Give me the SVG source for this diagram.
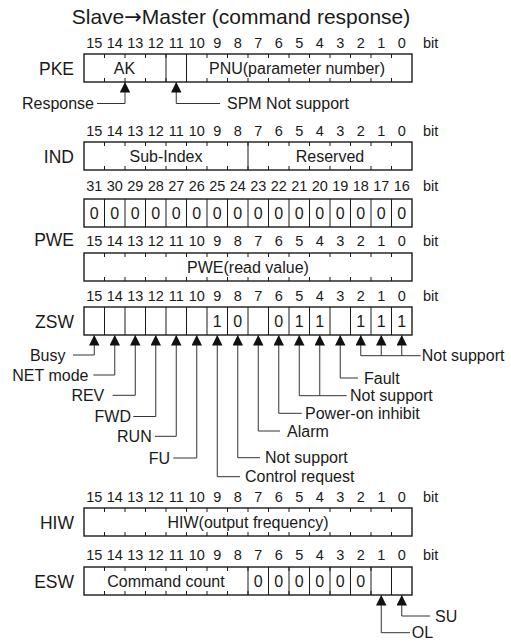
<svg xmlns="http://www.w3.org/2000/svg" xmlns:xlink="http://www.w3.org/1999/xlink" width="511" height="642" viewBox="0 0 511 642">
<style>
text{font-family:"Liberation Sans",Arial,sans-serif;fill:#1a1a1a}
.title{font-size:21px;text-anchor:middle}
.arr{font-family:"DejaVu Sans",sans-serif}
.reg{font-size:17.5px;text-anchor:end}
.num{font-size:14.5px;text-anchor:middle}
.bit{font-size:14.5px}
.in{font-size:16px;text-anchor:middle}
.lb{font-size:16px}
.lbe{font-size:16px;text-anchor:end}
.box{fill:#fff;stroke:#1a1a1a;stroke-width:1.4}
.dv{fill:none;stroke:#1a1a1a;stroke-width:1}
.tk{fill:none;stroke:#1a1a1a;stroke-width:1}
.cn{fill:none;stroke:#333;stroke-width:1;marker-start:url(#ah)}
</style>
<defs>
<marker id="ah" viewBox="0 0 10 10" refX="10" refY="5" markerUnits="userSpaceOnUse" markerWidth="10.5" markerHeight="10.5" orient="auto-start-reverse">
<path d="M0,0 L10,5 L0,10 z" fill="#111"/>
</marker>
<path id="ticks" class="tk" d="M104.5 0v4M125 0v4M145.5 0v4M166 0v4M186.5 0v4M207 0v4M227.5 0v4M248 0v4M268.5 0v4M289 0v4M309.5 0v4M330 0v4M350.5 0v4M371 0v4M391.5 0v4M104.5 28v-4M125 28v-4M145.5 28v-4M166 28v-4M186.5 28v-4M207 28v-4M227.5 28v-4M248 28v-4M268.5 28v-4M289 28v-4M309.5 28v-4M330 28v-4M350.5 28v-4M371 28v-4M391.5 28v-4"/>
<path id="divs" class="dv" d="M104.5 0v28M125 0v28M145.5 0v28M166 0v28M186.5 0v28M207 0v28M227.5 0v28M248 0v28M268.5 0v28M289 0v28M309.5 0v28M330 0v28M350.5 0v28M371 0v28M391.5 0v28"/>
</defs>
<rect width="511" height="642" fill="#fff"/>
<g id="title"><text class="title" x="241" y="23.5">Slave<tspan class="arr">→</tspan>Master (command response)</text></g>

<g id="PKE">
<text class="num" x="94.25" y="47.5">15</text><text class="num" x="114.75" y="47.5">14</text><text class="num" x="135.25" y="47.5">13</text><text class="num" x="155.75" y="47.5">12</text><text class="num" x="176.25" y="47.5">11</text><text class="num" x="196.75" y="47.5">10</text><text class="num" x="217.25" y="47.5">9</text><text class="num" x="237.75" y="47.5">8</text><text class="num" x="258.25" y="47.5">7</text><text class="num" x="278.75" y="47.5">6</text><text class="num" x="299.25" y="47.5">5</text><text class="num" x="319.75" y="47.5">4</text><text class="num" x="340.25" y="47.5">3</text><text class="num" x="360.75" y="47.5">2</text><text class="num" x="381.25" y="47.5">1</text><text class="num" x="401.75" y="47.5">0</text><text class="bit" x="423" y="47.5">bit</text>
<text class="reg" x="74" y="75">PKE</text>
<rect class="box" x="84" y="54" width="328" height="28"/>
<use xlink:href="#ticks" y="54"/>
<path class="dv" d="M166 54v28M186.5 54v28"/>
<text class="in" x="124.5" y="73.5">AK</text>
<text class="in" x="297" y="73.5">PNU(parameter number)</text>
</g>

<g id="IND">
<text class="num" x="94.25" y="135.5">15</text><text class="num" x="114.75" y="135.5">14</text><text class="num" x="135.25" y="135.5">13</text><text class="num" x="155.75" y="135.5">12</text><text class="num" x="176.25" y="135.5">11</text><text class="num" x="196.75" y="135.5">10</text><text class="num" x="217.25" y="135.5">9</text><text class="num" x="237.75" y="135.5">8</text><text class="num" x="258.25" y="135.5">7</text><text class="num" x="278.75" y="135.5">6</text><text class="num" x="299.25" y="135.5">5</text><text class="num" x="319.75" y="135.5">4</text><text class="num" x="340.25" y="135.5">3</text><text class="num" x="360.75" y="135.5">2</text><text class="num" x="381.25" y="135.5">1</text><text class="num" x="401.75" y="135.5">0</text><text class="bit" x="423" y="135.5">bit</text>
<text class="reg" x="74" y="163">IND</text>
<rect class="box" x="84" y="142" width="328" height="28"/>
<use xlink:href="#ticks" y="142"/>
<path class="dv" d="M248 142v28"/>
<text class="in" x="166" y="161.5">Sub-Index</text>
<text class="in" x="330" y="161.5">Reserved</text>
</g>

<g id="PWE">
<text class="num" x="94.25" y="190.5">31</text><text class="num" x="114.75" y="190.5">30</text><text class="num" x="135.25" y="190.5">29</text><text class="num" x="155.75" y="190.5">28</text><text class="num" x="176.25" y="190.5">27</text><text class="num" x="196.75" y="190.5">26</text><text class="num" x="217.25" y="190.5">25</text><text class="num" x="237.75" y="190.5">24</text><text class="num" x="258.25" y="190.5">23</text><text class="num" x="278.75" y="190.5">22</text><text class="num" x="299.25" y="190.5">21</text><text class="num" x="319.75" y="190.5">20</text><text class="num" x="340.25" y="190.5">19</text><text class="num" x="360.75" y="190.5">18</text><text class="num" x="381.25" y="190.5">17</text><text class="num" x="401.75" y="190.5">16</text><text class="bit" x="423" y="190.5">bit</text>
<rect class="box" x="84" y="199" width="328" height="28"/>
<use xlink:href="#divs" y="199"/>
<text class="in" x="94.25" y="218.5">0</text><text class="in" x="114.75" y="218.5">0</text><text class="in" x="135.25" y="218.5">0</text><text class="in" x="155.75" y="218.5">0</text><text class="in" x="176.25" y="218.5">0</text><text class="in" x="196.75" y="218.5">0</text><text class="in" x="217.25" y="218.5">0</text><text class="in" x="237.75" y="218.5">0</text><text class="in" x="258.25" y="218.5">0</text><text class="in" x="278.75" y="218.5">0</text><text class="in" x="299.25" y="218.5">0</text><text class="in" x="319.75" y="218.5">0</text><text class="in" x="340.25" y="218.5">0</text><text class="in" x="360.75" y="218.5">0</text><text class="in" x="381.25" y="218.5">0</text><text class="in" x="401.75" y="218.5">0</text>
<text class="reg" x="74" y="246">PWE</text>
<text class="num" x="94.25" y="245.5">15</text><text class="num" x="114.75" y="245.5">14</text><text class="num" x="135.25" y="245.5">13</text><text class="num" x="155.75" y="245.5">12</text><text class="num" x="176.25" y="245.5">11</text><text class="num" x="196.75" y="245.5">10</text><text class="num" x="217.25" y="245.5">9</text><text class="num" x="237.75" y="245.5">8</text><text class="num" x="258.25" y="245.5">7</text><text class="num" x="278.75" y="245.5">6</text><text class="num" x="299.25" y="245.5">5</text><text class="num" x="319.75" y="245.5">4</text><text class="num" x="340.25" y="245.5">3</text><text class="num" x="360.75" y="245.5">2</text><text class="num" x="381.25" y="245.5">1</text><text class="num" x="401.75" y="245.5">0</text><text class="bit" x="423" y="245.5">bit</text>
<rect class="box" x="84" y="253" width="328" height="28"/>
<use xlink:href="#ticks" y="253"/>
<text class="in" x="248" y="272.5">PWE(read value)</text>
</g>

<g id="ZSW">
<text class="num" x="94.25" y="301">15</text><text class="num" x="114.75" y="301">14</text><text class="num" x="135.25" y="301">13</text><text class="num" x="155.75" y="301">12</text><text class="num" x="176.25" y="301">11</text><text class="num" x="196.75" y="301">10</text><text class="num" x="217.25" y="301">9</text><text class="num" x="237.75" y="301">8</text><text class="num" x="258.25" y="301">7</text><text class="num" x="278.75" y="301">6</text><text class="num" x="299.25" y="301">5</text><text class="num" x="319.75" y="301">4</text><text class="num" x="340.25" y="301">3</text><text class="num" x="360.75" y="301">2</text><text class="num" x="381.25" y="301">1</text><text class="num" x="401.75" y="301">0</text><text class="bit" x="423" y="301">bit</text>
<text class="reg" x="74" y="328">ZSW</text>
<rect class="box" x="84" y="307" width="328" height="28"/>
<use xlink:href="#divs" y="307"/>
<text class="in" x="217.25" y="326.5">1</text><text class="in" x="237.75" y="326.5">0</text><text class="in" x="278.75" y="326.5">0</text><text class="in" x="299.25" y="326.5">1</text><text class="in" x="319.75" y="326.5">1</text><text class="in" x="360.75" y="326.5">1</text><text class="in" x="381.25" y="326.5">1</text><text class="in" x="401.75" y="326.5">1</text>
</g>

<g id="HIW">
<text class="num" x="94.25" y="502">15</text><text class="num" x="114.75" y="502">14</text><text class="num" x="135.25" y="502">13</text><text class="num" x="155.75" y="502">12</text><text class="num" x="176.25" y="502">11</text><text class="num" x="196.75" y="502">10</text><text class="num" x="217.25" y="502">9</text><text class="num" x="237.75" y="502">8</text><text class="num" x="258.25" y="502">7</text><text class="num" x="278.75" y="502">6</text><text class="num" x="299.25" y="502">5</text><text class="num" x="319.75" y="502">4</text><text class="num" x="340.25" y="502">3</text><text class="num" x="360.75" y="502">2</text><text class="num" x="381.25" y="502">1</text><text class="num" x="401.75" y="502">0</text><text class="bit" x="423" y="502">bit</text>
<text class="reg" x="74" y="529">HIW</text>
<rect class="box" x="84" y="508" width="328" height="28"/>
<use xlink:href="#ticks" y="508"/>
<text class="in" x="248" y="527.5">HIW(output frequency)</text>
</g>

<g id="ESW">
<text class="num" x="94.25" y="560">15</text><text class="num" x="114.75" y="560">14</text><text class="num" x="135.25" y="560">13</text><text class="num" x="155.75" y="560">12</text><text class="num" x="176.25" y="560">11</text><text class="num" x="196.75" y="560">10</text><text class="num" x="217.25" y="560">9</text><text class="num" x="237.75" y="560">8</text><text class="num" x="258.25" y="560">7</text><text class="num" x="278.75" y="560">6</text><text class="num" x="299.25" y="560">5</text><text class="num" x="319.75" y="560">4</text><text class="num" x="340.25" y="560">3</text><text class="num" x="360.75" y="560">2</text><text class="num" x="381.25" y="560">1</text><text class="num" x="401.75" y="560">0</text><text class="bit" x="423" y="560">bit</text>
<text class="reg" x="74" y="588">ESW</text>
<rect class="box" x="84" y="567" width="328" height="28"/>
<use xlink:href="#ticks" y="567"/>
<path class="dv" d="M248 567v28M268.5 567v28M289 567v28M309.5 567v28M330 567v28M350.5 567v28M371 567v28M391.5 567v28"/>
<text class="in" x="166" y="586.5">Command count</text>
<text class="in" x="258.25" y="586.5">0</text><text class="in" x="278.75" y="586.5">0</text><text class="in" x="299.25" y="586.5">0</text><text class="in" x="319.75" y="586.5">0</text><text class="in" x="340.25" y="586.5">0</text><text class="in" x="360.75" y="586.5">0</text>
</g>

<g id="connectors">
<path class="cn" d="M125 82V103.5H97"/>
<path class="cn" d="M176.25 82V103.5H220"/>
<path class="cn" d="M94.25 335V355H73"/>
<path class="cn" d="M114.75 335V375H93.3"/>
<path class="cn" d="M135.25 335V395.3H112.7"/>
<path class="cn" d="M155.75 335V416.5H133.3"/>
<path class="cn" d="M176.25 335V436.3H155"/>
<path class="cn" d="M196.75 335V458H173.3"/>
<path class="cn" d="M217.25 335V476.7H240"/>
<path class="cn" d="M237.75 335V457.7H260"/>
<path class="cn" d="M258.25 335V431H280"/>
<path class="cn" d="M278.75 335V413.3H301.7"/>
<path class="cn" d="M299.25 335V395.7H346.7"/>
<path class="cn" d="M319.75 335V395.7"/>
<path class="cn" d="M340.25 335V378H358"/>
<path class="cn" d="M360.75 335V355.7H420.7"/>
<path class="cn" d="M381.25 335V355.7"/>
<path class="cn" d="M401.75 335V355.7"/>
<path class="cn" d="M381.25 595V632.7H410"/>
<path class="cn" d="M401.75 595V616H430"/>
</g>

<g id="labels">
<text class="lbe" x="94" y="109">Response</text>
<text class="lb" x="227" y="109">SPM Not support</text>
<text class="lbe" x="65.5" y="360.7">Busy</text>
<text class="lbe" x="88.5" y="380.7">NET mode</text>
<text class="lbe" x="104.3" y="401">REV</text>
<text class="lbe" x="131" y="422.2">FWD</text>
<text class="lbe" x="151.7" y="442">RUN</text>
<text class="lbe" x="170" y="463.7">FU</text>
<text class="lb" x="245" y="482.4">Control request</text>
<text class="lb" x="265" y="463.4">Not support</text>
<text class="lb" x="287" y="436.7">Alarm</text>
<text class="lb" x="305" y="419">Power-on inhibit</text>
<text class="lb" x="350" y="401.4">Not support</text>
<text class="lb" x="364" y="383.7">Fault</text>
<text class="lb" x="421.7" y="361.4">Not support</text>
<text class="lb" x="435" y="621.7">SU</text>
<text class="lb" x="411.7" y="638.4">OL</text>
</g>
</svg>
